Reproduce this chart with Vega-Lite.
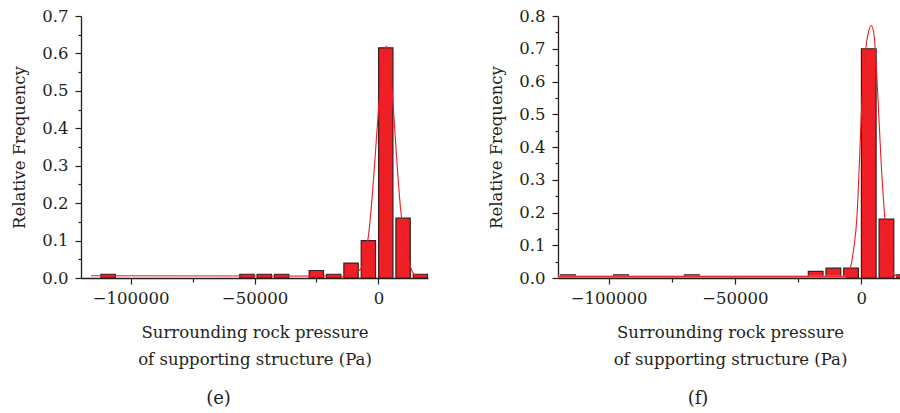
{
  "$schema": "https://vega.github.io/schema/vega-lite/v6.json",
  "background": "white",
  "padding": {"left": 11, "top": 8, "right": 0, "bottom": 0},
  "datasets": {
    "e_bars": [
      {"start": -112750, "end": -105750, "freq": 0.01},
      {"start": -56750, "end": -49750, "freq": 0.01},
      {"start": -49750, "end": -42750, "freq": 0.01},
      {"start": -42750, "end": -35750, "freq": 0.01},
      {"start": -28750, "end": -21750, "freq": 0.02},
      {"start": -21750, "end": -14750, "freq": 0.01},
      {"start": -14750, "end": -7750, "freq": 0.04},
      {"start": -7750, "end": -750, "freq": 0.10},
      {"start": -750, "end": 6250, "freq": 0.615},
      {"start": 6250, "end": 13250, "freq": 0.16},
      {"start": 13250, "end": 20250, "freq": 0.01}
    ],
    "e_curve": [
      {"x": -116000, "y": 0.006},
      {"x": -20000, "y": 0.005},
      {"x": -14000, "y": 0.004},
      {"x": -10500, "y": 0.008},
      {"x": -8600, "y": 0.016},
      {"x": -6600, "y": 0.03},
      {"x": -4300, "y": 0.10},
      {"x": 3200, "y": 0.62},
      {"x": 9300, "y": 0.163},
      {"x": 11000, "y": 0.085},
      {"x": 12900, "y": 0.03},
      {"x": 14900, "y": 0.008},
      {"x": 19600, "y": 0.005}
    ],
    "f_bars": [
      {"start": -119750, "end": -112750, "freq": 0.01},
      {"start": -98750, "end": -91750, "freq": 0.01},
      {"start": -70750, "end": -63750, "freq": 0.01},
      {"start": -21750, "end": -14750, "freq": 0.02},
      {"start": -14750, "end": -7750, "freq": 0.03},
      {"start": -7750, "end": -750, "freq": 0.03},
      {"start": -750, "end": 6250, "freq": 0.70},
      {"start": 6250, "end": 13250, "freq": 0.18},
      {"start": 13250, "end": 20250, "freq": 0.01}
    ],
    "f_base": [
      {"x": -120000, "y": 0.004},
      {"x": -6000, "y": 0.004}
    ],
    "f_curve": [
      {"x": -120000, "y": 0.004},
      {"x": -6500, "y": 0.004},
      {"x": -5640, "y": 0.005},
      {"x": -4300, "y": 0.03},
      {"x": -3000, "y": 0.09},
      {"x": -1700, "y": 0.19},
      {"x": -790, "y": 0.345},
      {"x": 0, "y": 0.497},
      {"x": 670, "y": 0.60},
      {"x": 1580, "y": 0.69},
      {"x": 2800, "y": 0.75},
      {"x": 3940, "y": 0.771},
      {"x": 5000, "y": 0.745},
      {"x": 5520, "y": 0.70},
      {"x": 6580, "y": 0.55},
      {"x": 7900, "y": 0.345},
      {"x": 9460, "y": 0.17},
      {"x": 11440, "y": 0.05},
      {"x": 13400, "y": 0.008},
      {"x": 16100, "y": 0.004}
    ]
  },
  "config": {
    "view": {"stroke": null},
    "font": "DejaVu Serif",
    "axis": {
      "domainColor": "#231f20", "tickColor": "#231f20", "labelColor": "#231f20", "titleColor": "#231f20",
      "labelFont": "DejaVu Serif", "titleFont": "DejaVu Serif",
      "labelFontSize": 16.5, "titleFontSize": 16.5, "titleFontWeight": "normal",
      "grid": false, "domainWidth": 1.3, "tickWidth": 1.2
    },
    "concat": {"spacing": 60}
  },
  "hconcat": [
    {
      "width": 347, "height": 262,
      "title": {"text": "(e)", "orient": "bottom", "anchor": "middle", "dx": -36, "offset": 22, "fontSize": 18, "fontWeight": "normal", "font": "DejaVu Serif", "color": "#231f20"},
      "layer": [
        {
          "data": {"name": "e_bars"},
          "mark": {"type": "bar", "color": "#ee1f25", "stroke": "#3a1d1e", "strokeWidth": 1.2, "binSpacing": 3, "clip": true},
          "encoding": {
            "x": {"field": "start", "type": "quantitative", "bin": {"binned": true},
              "scale": {"domain": [-120000, 20000], "nice": false, "zero": false},
              "axis": {"title": ["Surrounding rock pressure", "of supporting structure (Pa)"], "titleLineHeight": 27, "titlePadding": 18,
                "values": [-100000, -75000, -50000, -25000, 0], "tickCount": 20, "format": "d", "labelOverlap": false,
                "labelExpr": "datum.value % 50000 == 0 ? datum.label : ''",
                "tickSize": {"condition": {"test": "datum.value % 50000 == 0", "value": 6}, "value": 4},
                "labelPadding": 6}},
            "x2": {"field": "end"},
            "y": {"field": "freq", "type": "quantitative",
              "scale": {"domain": [0, 0.7], "nice": false},
              "axis": {"title": "Relative Frequency", "titlePadding": 14, "labelPadding": 7, "labelOverlap": false, "format": ".1f", "tickCount": 40,
                "values": [0, 0.05, 0.1, 0.15, 0.2, 0.25, 0.3, 0.35, 0.4, 0.45, 0.5, 0.55, 0.6, 0.65, 0.7],
                "labelExpr": "round(datum.value*20) % 2 == 0 ? datum.label : ''",
                "tickSize": {"condition": {"test": "round(datum.value*20) % 2 == 0", "value": 6}, "value": 3}}}
          }
        },
        {
          "data": {"name": "e_curve"},
          "mark": {"type": "line", "color": "#ec1c24", "strokeWidth": 1.1, "interpolate": "monotone", "clip": true},
          "encoding": {
            "x": {"field": "x", "type": "quantitative", "axis": {"title": ["Surrounding rock pressure", "of supporting structure (Pa)"], "labelOverlap": false}},
            "y": {"field": "y", "type": "quantitative", "axis": {"title": "Relative Frequency", "labelOverlap": false}}
          }
        }
      ]
    },
    {
      "width": 344, "height": 262,
      "title": {"text": "(f)", "orient": "bottom", "anchor": "middle", "dx": -32, "offset": 22, "fontSize": 18, "fontWeight": "normal", "font": "DejaVu Serif", "color": "#231f20"},
      "layer": [
        {
          "data": {"name": "f_bars"},
          "mark": {"type": "bar", "color": "#ee1f25", "stroke": "#3a1d1e", "strokeWidth": 1.2, "binSpacing": 3, "clip": true},
          "encoding": {
            "x": {"field": "start", "type": "quantitative", "bin": {"binned": true},
              "scale": {"domain": [-120000, 16100], "nice": false, "zero": false},
              "axis": {"title": ["Surrounding rock pressure", "of supporting structure (Pa)"], "titleLineHeight": 27, "titlePadding": 18,
                "values": [-100000, -75000, -50000, -25000, 0], "tickCount": 20, "format": "d", "labelOverlap": false,
                "labelExpr": "datum.value % 50000 == 0 ? datum.label : ''",
                "tickSize": {"condition": {"test": "datum.value % 50000 == 0", "value": 6}, "value": 4},
                "labelPadding": 6}},
            "x2": {"field": "end"},
            "y": {"field": "freq", "type": "quantitative",
              "scale": {"domain": [0, 0.8], "nice": false},
              "axis": {"title": "Relative Frequency", "titlePadding": 14, "labelPadding": 7, "labelOverlap": false, "format": ".1f", "tickCount": 40,
                "values": [0, 0.05, 0.1, 0.15, 0.2, 0.25, 0.3, 0.35, 0.4, 0.45, 0.5, 0.55, 0.6, 0.65, 0.7, 0.75, 0.8],
                "labelExpr": "round(datum.value*20) % 2 == 0 ? datum.label : ''",
                "tickSize": {"condition": {"test": "round(datum.value*20) % 2 == 0", "value": 6}, "value": 3}}}
          }
        },
        {
          "data": {"name": "f_base"},
          "mark": {"type": "line", "color": "#f2646a", "strokeWidth": 2.4, "clip": true},
          "encoding": {
            "x": {"field": "x", "type": "quantitative", "axis": {"title": ["Surrounding rock pressure", "of supporting structure (Pa)"], "labelOverlap": false}},
            "y": {"field": "y", "type": "quantitative", "axis": {"title": "Relative Frequency", "labelOverlap": false}}
          }
        },
        {
          "data": {"name": "f_curve"},
          "mark": {"type": "line", "color": "#ec1c24", "strokeWidth": 1.1, "interpolate": "monotone", "clip": true},
          "encoding": {
            "x": {"field": "x", "type": "quantitative", "axis": {"title": ["Surrounding rock pressure", "of supporting structure (Pa)"], "labelOverlap": false}},
            "y": {"field": "y", "type": "quantitative", "axis": {"title": "Relative Frequency", "labelOverlap": false}}
          }
        }
      ]
    }
  ]
}
